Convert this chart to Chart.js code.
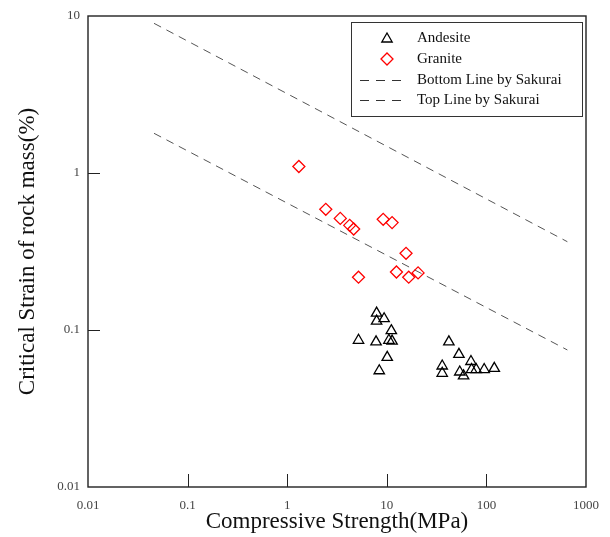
<!DOCTYPE html>
<html>
<head>
<meta charset="utf-8">
<script src="https://cdn.jsdelivr.net/npm/chart.js@4"></script>
<style>
  body { margin: 0; background: #fff; }
  canvas { display: block; }
</style>
</head>
<body>
<canvas id="myChart" width="610" height="537"></canvas>
<script>
const graph = document.querySelector("#myChart");

// values
const xTicks = [0.01, 0.1, 1, 10, 100, 1000];
const yTicks = [0.01, 0.1, 1, 10];

const andesiteX = [7.9, 9.4, 7.9, 11.1, 5.2, 7.8, 10.5, 11.3, 10.1, 8.4,
  42, 53, 36, 36, 54, 59, 70, 71, 79, 95, 120];
const andesiteY = [0.128, 0.118, 0.114, 0.099, 0.086, 0.084, 0.086, 0.085, 0.067, 0.055,
  0.084, 0.070, 0.059, 0.053, 0.054, 0.051, 0.063, 0.056, 0.056, 0.056, 0.057];

const graniteX = [1.31, 2.44, 3.41, 4.24, 4.65, 9.2, 11.3, 15.6, 5.2, 12.5, 16.6, 20.6];
const graniteY = [1.10, 0.587, 0.514, 0.464, 0.44, 0.507, 0.483, 0.308, 0.217, 0.234, 0.217, 0.231];

const lineX = [0.046, 650];
const bottomLineY = [1.79, 0.0746];
const topLineY = [8.98, 0.365];

const legendLabels = ["Andesite", "Granite", "Bottom Line by Sakurai", "Top Line by Sakurai"];

const serif = "'Liberation Serif', 'DejaVu Serif', serif";
Chart.defaults.font.family = serif;

function pares(xs, ys) {
  return xs.map((x, i) => ({ x: x, y: ys[i] }));
}

// frame, inner ticks and legend box
const marco = {
  id: "marco",
  afterDraw(chart) {
    const ctx = chart.ctx;
    const a = chart.chartArea;
    const sx = chart.scales.x;
    const sy = chart.scales.y;
    ctx.save();
    ctx.strokeStyle = "#222";
    ctx.lineWidth = 1.4;
    ctx.strokeRect(a.left, a.top, a.right - a.left, a.bottom - a.top);
    ctx.lineWidth = 1;
    ctx.beginPath();
    xTicks.slice(1, -1).forEach((v) => {
      const px = Math.round(sx.getPixelForValue(v)) + 0.5;
      ctx.moveTo(px, a.bottom);
      ctx.lineTo(px, a.bottom - 13);
    });
    yTicks.slice(1, -1).forEach((v) => {
      const py = Math.round(sy.getPixelForValue(v)) + 0.5;
      ctx.moveTo(a.left, py);
      ctx.lineTo(a.left + 12, py);
    });
    ctx.stroke();

    // legend
    const box = { left: 351, top: 22, right: 582, bottom: 116 };
    ctx.fillStyle = "#fff";
    ctx.fillRect(box.left, box.top, box.right - box.left, box.bottom - box.top);
    ctx.strokeStyle = "#333";
    ctx.strokeRect(box.left + 0.5, box.top + 0.5, box.right - box.left, box.bottom - box.top);
    const filas = [38, 59, 80, 100];
    ctx.font = "15px " + serif;
    ctx.fillStyle = "#111";
    ctx.textBaseline = "middle";
    ctx.textAlign = "left";
    legendLabels.forEach((t, i) => ctx.fillText(t, 417, filas[i]));

    ctx.fillStyle = "rgba(0,0,0,0)";
    ctx.lineWidth = 1.3;
    ctx.strokeStyle = "#000";
    Chart.helpers.drawPoint(ctx, { pointStyle: "triangle", radius: 6, rotation: 0, borderWidth: 1.3 }, 387, filas[0] + 1);
    ctx.strokeStyle = "#ff0000";
    Chart.helpers.drawPoint(ctx, { pointStyle: "rectRot", radius: 6, rotation: 0, borderWidth: 1.3 }, 387, filas[1]);

    ctx.strokeStyle = "#333";
    ctx.lineWidth = 1;
    ctx.setLineDash([9, 7]);
    [filas[2], filas[3]].forEach((y) => {
      ctx.beginPath();
      ctx.moveTo(360, y + 0.5);
      ctx.lineTo(402, y + 0.5);
      ctx.stroke();
    });
    ctx.restore();
  },
};

const lineaBase = {
  type: "line",
  showLine: true,
  borderColor: "#555",
  borderWidth: 1,
  borderDash: [8, 6],
  pointRadius: 0,
  fill: false,
};

const myChart = new Chart(graph, {
  type: "scatter",
  data: {
    datasets: [
      {
        label: legendLabels[0],
        data: pares(andesiteX, andesiteY),
        pointStyle: "triangle",
        pointRadius: 6,
        borderColor: "#000",
        backgroundColor: "rgba(0,0,0,0)",
        borderWidth: 1.3,
      },
      {
        label: legendLabels[1],
        data: pares(graniteX, graniteY),
        pointStyle: "rectRot",
        pointRadius: 6,
        borderColor: "#ff0000",
        backgroundColor: "rgba(0,0,0,0)",
        borderWidth: 1.3,
      },
      Object.assign({ label: legendLabels[2], data: pares(lineX, bottomLineY) }, lineaBase),
      Object.assign({ label: legendLabels[3], data: pares(lineX, topLineY) }, lineaBase),
    ],
  },
  options: {
    responsive: false,
    animation: false,
    events: [],
    layout: { padding: { top: 16, right: 24, left: 0, bottom: 0 } },
    plugins: { legend: { display: false }, tooltip: { enabled: false } },
    scales: {
      x: {
        type: "logarithmic",
        min: 0.01,
        max: 1000,
        afterBuildTicks: (s) => { s.ticks = xTicks.map((v) => ({ value: v })); },
        afterFit: (s) => { s.height = 50; },
        grid: { display: false, drawTicks: false },
        border: { display: false },
        ticks: {
          padding: 11,
          autoSkip: false,
          maxRotation: 0,
          color: "#444",
          font: { size: 13 },
          callback: (v) => String(v),
        },
        title: {
          display: true,
          text: "Compressive Strength(MPa)",
          color: "#111",
          font: { size: 23 },
          padding: { top: 0, bottom: 1 },
        },
      },
      y: {
        type: "logarithmic",
        min: 0.01,
        max: 10,
        afterBuildTicks: (s) => { s.ticks = yTicks.map((v) => ({ value: v })); },
        afterFit: (s) => { s.width = 88; },
        grid: { display: false, drawTicks: false },
        border: { display: false },
        ticks: {
          padding: 8,
          autoSkip: false,
          color: "#444",
          font: { size: 13 },
          callback: (v) => String(v),
        },
        title: {
          display: true,
          text: "Critical Strain of rock mass(%)",
          color: "#111",
          font: { size: 23 },
          padding: { top: 14, bottom: 0 },
        },
      },
    },
  },
  plugins: [marco],
});
</script>
</body>
</html>
